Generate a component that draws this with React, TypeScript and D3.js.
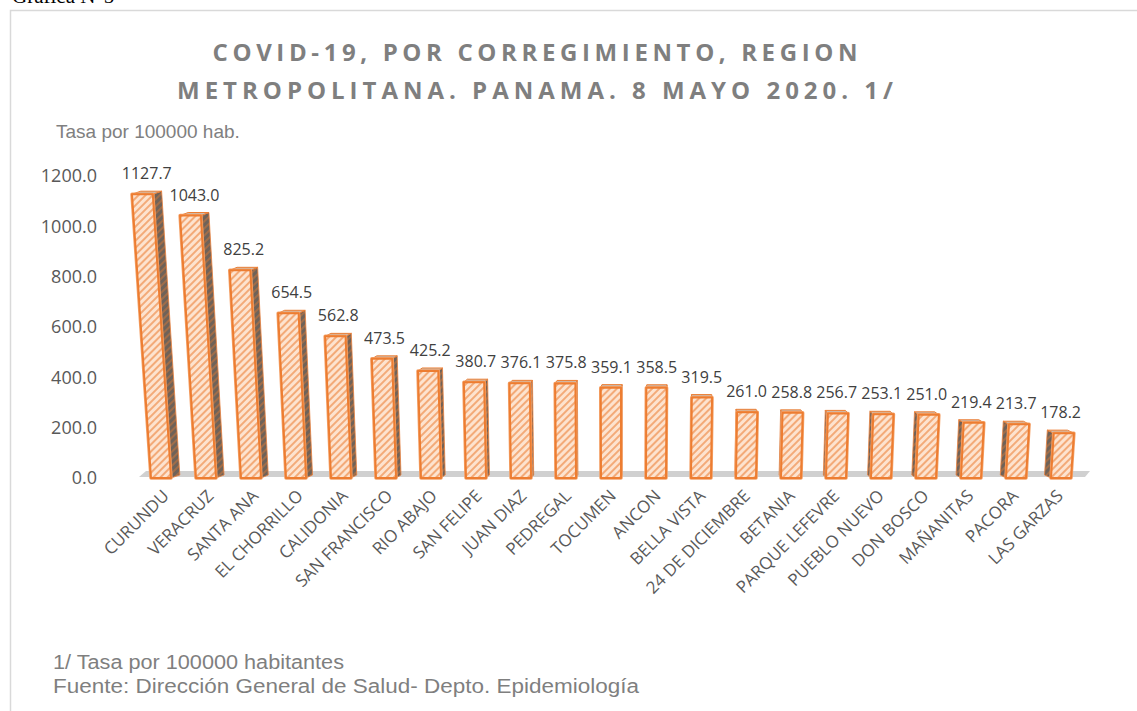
import React from "react";
import * as d3 from "d3";

const categories = [
  "CURUNDU", "VERACRUZ", "SANTA ANA", "EL CHORRILLO", "CALIDONIA", "SAN FRANCISCO",
  "RIO ABAJO", "SAN FELIPE", "JUAN DIAZ", "PEDREGAL", "TOCUMEN", "ANCON", "BELLA VISTA",
  "24 DE DICIEMBRE", "BETANIA", "PARQUE LEFEVRE", "PUEBLO NUEVO", "DON BOSCO",
  "MAÑANITAS", "PACORA", "LAS GARZAS",
];
const values = [
  1127.7, 1043.0, 825.2, 654.5, 562.8, 473.5, 425.2, 380.7, 376.1, 375.8, 359.1,
  358.5, 319.5, 261.0, 258.8, 256.7, 253.1, 251.0, 219.4, 213.7, 178.2,
];
const yTicks = [0, 200, 400, 600, 800, 1000, 1200];
const titleLines = [
  "COVID-19, POR CORREGIMIENTO, REGION",
  "METROPOLITANA. PANAMA. 8 MAYO 2020. 1/",
];
const yAxisTitle = "Tasa por 100000 hab.";
const footnotes = [
  "1/ Tasa por 100000 habitantes",
  "Fuente: Dirección General de Salud- Depto. Epidemiología",
];

const W = 1137;
const H = 711;
const FONT = "'Open Sans', 'DejaVu Sans', sans-serif";
const ARIAL = "'Liberation Sans', Arial, sans-serif";
const NARROW = "'Liberation Sans Narrow', 'Arial Narrow', 'Liberation Sans', sans-serif";

export default function App() {
  const x = d3.scalePoint<string>().domain(categories).range([161, 1061]);
  const y = d3.scaleLinear().domain([0, 1200]).range([478, 176]);
  const y0 = y(0);
  const halfW = 10;
  const vxLean = 620;
  const D = 7000;
  const vxSide = 680;
  const sideK = 0.017;
  const dy = -3;

  const pts = (p: [number, number][]) => p.map((q) => q.join(",")).join(" ");

  const bars = categories.map((c, i) => {
    const xb = x(c) as number;
    const yt = y(values[i]);
    const h = y0 - yt;
    const xt = xb + ((xb - vxLean) * h) / D;
    const hwT = halfW * (1 + h / D);
    const dx = (vxSide - xb) * sideK;
    const BL: [number, number] = [xb - halfW, y0];
    const BR: [number, number] = [xb + halfW, y0];
    const TR: [number, number] = [xt + hwT, yt];
    const TL: [number, number] = [xt - hwT, yt];
    const sh = (p: [number, number]): [number, number] => [p[0] + dx, p[1] + dy];
    const side =
      dx >= 0 ? [TR, BR, sh(BR), sh(TR)] : [TL, BL, sh(BL), sh(TL)];
    const top = [TL, TR, sh(TR), sh(TL)];
    const front = [BL, BR, TR, TL];
    return { c, i, xb, xt, yt, dx, side, top, front };
  });

  return (
    <svg
      width={W}
      height={H}
      style={{ position: "absolute", left: 0, top: 0, background: "#fff" }}
    >
      <defs>
        <pattern id="hatchFront" width="5" height="5" patternUnits="userSpaceOnUse" patternTransform="rotate(-45)">
          <rect width="5" height="5" fill="#fde3cf" />
          <line x1="0" y1="1" x2="5" y2="1" stroke="#ef9253" strokeWidth="1.4" />
        </pattern>
        <pattern id="hatchSide" width="5" height="5" patternUnits="userSpaceOnUse" patternTransform="rotate(-45)">
          <rect width="5" height="5" fill="#6f6258" />
          <line x1="0" y1="1" x2="5" y2="1" stroke="#c9763d" strokeWidth="1.1" />
        </pattern>
        <filter id="glow" x="-20%" y="-5%" width="140%" height="110%">
          <feGaussianBlur stdDeviation="0.6" />
        </filter>
      </defs>
      <rect x={0} y={0} width={W} height={H} fill="#fff" />
      <text x={12} y={3} fontFamily="'Liberation Serif', 'Times New Roman', serif" fontSize={21} fill="#000">
        Gráfica N°5
      </text>
      <rect x={10.5} y={10.5} width={1300} height={900} fill="none" stroke="#d9d9d9" strokeWidth={1.5} />

      {/* Title */}
      <text x={535} y={61} textAnchor="middle" fontFamily={FONT} fontWeight="bold" fontSize={24} fill="#7f7f7f" textLength={645} lengthAdjust="spacing">
        {titleLines[0]}
      </text>
      <text x={535} y={99} textAnchor="middle" fontFamily={FONT} fontWeight="bold" fontSize={24} fill="#7f7f7f" textLength={716} lengthAdjust="spacing">
        {titleLines[1]}
      </text>

      <text x={56} y={138} fontFamily={ARIAL} fontSize={19} fill="#808080">
        {yAxisTitle}
      </text>

      {/* Y tick labels */}
      {yTicks.map((t) => (
        <text key={t} x={97} y={y(t)} dy="0.35em" textAnchor="end" fontFamily={FONT} fontSize={18} fill="#595959">
          {d3.format(".1f")(t)}
        </text>
      ))}

      {/* Floor */}
      <polygon points={pts([[139, 477], [1085, 477], [1090, 471], [146, 471]])} fill="#d0d0d0" />

      {/* Bars */}
      {bars.map((b) => (
        <g key={b.c}>
          <polygon points={pts(b.side as [number, number][])} fill="url(#hatchSide)" stroke="#e8823f" strokeWidth={0.8} strokeLinejoin="round" />
          <polygon points={pts(b.top as [number, number][])} fill="#c7bdb4" stroke="#ed7d31" strokeWidth={1} strokeLinejoin="round" />
          <polygon points={pts(b.front as [number, number][])} fill="none" stroke="#f4a36b" strokeWidth={3.5} strokeLinejoin="round" filter="url(#glow)" />
          <polygon points={pts(b.front as [number, number][])} fill="url(#hatchFront)" stroke="#ed7d31" strokeWidth={2} strokeLinejoin="round" />
        </g>
      ))}

      {/* Value labels */}
      {bars.map((b) => (
        <text key={"v" + b.c} x={b.xt + b.dx / 2} y={b.yt - 15} textAnchor="middle" fontFamily={FONT} fontSize={16} fill="#404040">
          {d3.format(".1f")(values[b.i])}
        </text>
      ))}

      {/* Category labels */}
      {bars.map((b) => (
        <text
          key={"c" + b.c}
          transform={`translate(${b.xb + 9 - 0.3 * b.i},${497}) rotate(-45)`}
          textAnchor="end"
          fontFamily={FONT}
          fontSize={17}
          fill="#595959"
        >
          {b.c}
        </text>
      ))}

      {/* Footnotes */}
      <text x={53} y={669} fontFamily={NARROW} fontSize={20} fill="#7f7f7f" textLength={291} lengthAdjust="spacingAndGlyphs">
        {footnotes[0]}
      </text>
      <text x={53} y={693} fontFamily={NARROW} fontSize={20} fill="#7f7f7f" textLength={586} lengthAdjust="spacingAndGlyphs">
        {footnotes[1]}
      </text>
    </svg>
  );
}
